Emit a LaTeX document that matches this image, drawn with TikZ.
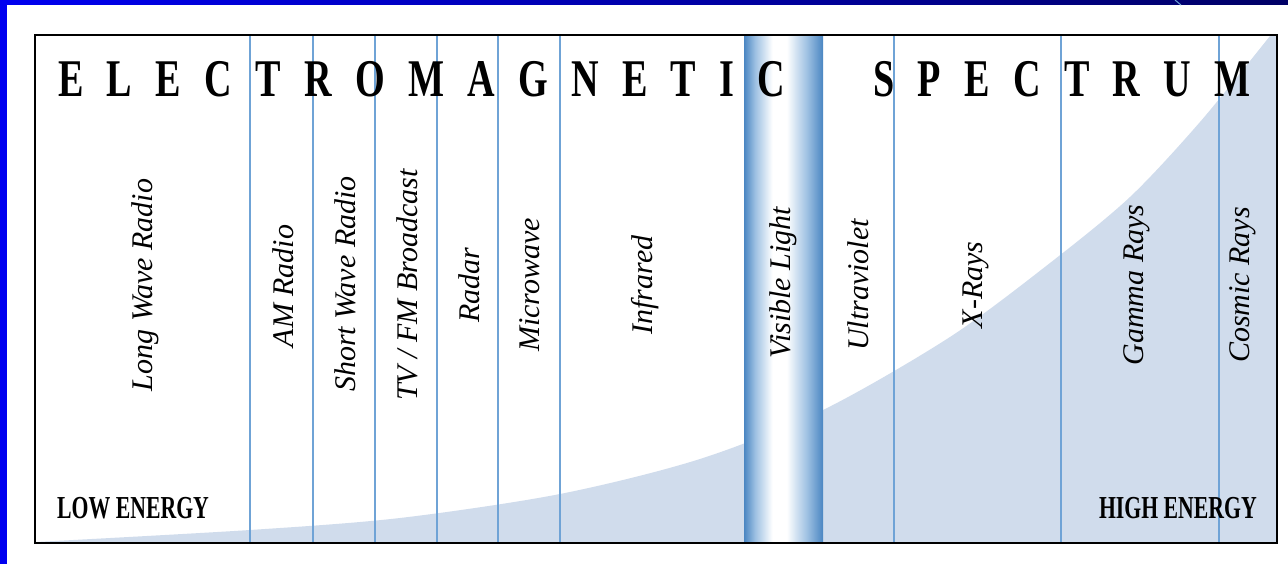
\documentclass[tikz,border=0pt]{standalone}
\usepackage{fontspec}
\setmainfont{Liberation Serif}
\newfontfamily\titlefont[FakeStretch=0.72,LetterSpace=44]{Liberation Serif}
\newfontfamily\energyfont[FakeStretch=0.68]{Liberation Serif}
\usetikzlibrary{positioning}
\definecolor{slideBlue}{HTML}{0000F0}
\definecolor{slideNavy}{HTML}{000066}
\definecolor{rayLine}{HTML}{6FA3D6}
\definecolor{rayFill}{HTML}{D0DCEC}
\definecolor{visBlue}{HTML}{4A86C2}
\definecolor{visMid}{HTML}{9DC0E2}
\pgfdeclarehorizontalshading{visband}{100bp}{color(0bp)=(visBlue); color(25bp)=(visBlue); color(32bp)=(visMid); color(43bp)=(white); color(52bp)=(white); color(65bp)=(visMid); color(75bp)=(visBlue); color(100bp)=(visBlue)}

\begin{document}
\begin{tikzpicture}[x=1pt, y=-1pt, inner sep=0pt,
          divider/.style={draw=rayLine, line width=1.2pt},
          ray/.style={rotate=90, font=\fontsize{30}{30}\selectfont\itshape},
          energy/.style={font=\energyfont\bfseries\fontsize{32}{32}\selectfont},
          ttl/.style={anchor=base west, font=\titlefont\bfseries\fontsize{53}{53}\selectfont}]
        \useasboundingbox (0,0) rectangle (1288,564);
        \fill[white] (0,0) rectangle (1288,564);
        \shade[left color=slideBlue, right color=slideNavy] (0,0) rectangle (1288,5);
        \fill[slideBlue] (0,0) rectangle (7,564);
        \draw[rayLine, line width=1pt] (1175,0) -- (1181,5);
        \fill[rayFill] plot[smooth] coordinates {(36,542) (250,530) (400,518) (560,494) (700,459) (823,410) (950,337) (1050,263) (1130,197) (1200,122) (1270,36)} -- (1276,36) -- (1276,542) -- cycle;
        \shade[shading=visband] (744,36) rectangle (823,542);
        \draw[divider] (250,36) -- (250,542) (313,36) -- (313,542) (375,36) -- (375,542)
          (437,36) -- (437,542) (498,36) -- (498,542) (560,36) -- (560,542)
          (894,36) -- (894,542) (1061,36) -- (1061,542) (1219,36) -- (1219,542);
        \draw[line width=2.2pt] (35,35) rectangle (1277,543);
        \node[ttl] (ttlA) at (58,97) {ELECTROMAGNETIC};
        \node[ttl] (ttlB) at (873,97) {SPECTRUM};
        \node[ray] (lwave) at (145,285) {Long Wave Radio};
        \node[ray] (am) at (283,286) {AM Radio};
        \node[ray] (swave) at (345,284) {Short Wave Radio};
        \node[ray] (tvfm) at (407,285) {TV / FM Broadcast};
        \node[ray] (radar) at (469,285) {Radar};
        \node[ray] (micro) at (530,285) {Microwave};
        \node[ray] (ir) at (645,285) {Infrared};
        \node[ray] (vis) at (783,283) {Visible Light};
        \node[ray] (uv) at (858,285) {Ultraviolet};
        \node[ray] (xray) at (976,285) {X-Rays};
        \node[ray] (gamma) at (1137,285) {Gamma Rays};
        \node[ray] (cosmic) at (1243,285) {Cosmic Rays};
        \node[energy, anchor=base west] (low) at (57,518) {LOW ENERGY};
        \node[energy, anchor=base east] (high) at (1257,518) {HIGH ENERGY};
      \end{tikzpicture}
\end{document}
